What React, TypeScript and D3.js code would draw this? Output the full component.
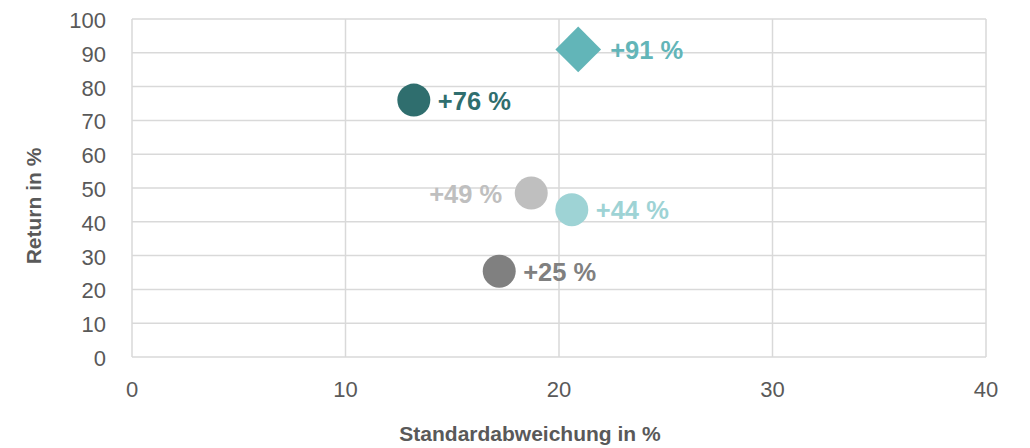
import React from "react";
import * as d3 from "d3";

const seriesNames = ["A", "B", "C", "D", "E"];
const stdDev = [20.9, 13.2, 18.7, 20.6, 17.2];
const returns = [91, 76, 48.5, 43.6, 25.4];
const labels = ["+91 %", "+76 %", "+49 %", "+44 %", "+25 %"];
const colors = ["#62B5B8", "#2F6E6E", "#BFBFBF", "#9ED3D5", "#808080"];
const shapes = ["diamond", "circle", "circle", "circle", "circle"];
const labelSide = ["right", "right", "left", "right", "right"];
const xTicks = [0, 10, 20, 30, 40];
const yTicks = [0, 10, 20, 30, 40, 50, 60, 70, 80, 90, 100];

const W = 1030;
const H = 448;
const FONT = "'Liberation Sans', Arial, sans-serif";

export default function App() {
  const x = d3.scaleLinear().domain([0, 40]).range([132, 986]);
  const y = d3.scaleLinear().domain([0, 100]).range([357, 19]);
  const grid = "#D9D9D9";
  const diamond = d3.symbol().type(d3.symbolDiamond2).size(1330)();
  const circle = d3.symbol().type(d3.symbolCircle).size(Math.PI * 16.5 * 16.5)();

  return (
    <svg
      width={W}
      height={H}
      style={{ position: "absolute", left: 0, top: 0, background: "#fff" }}
      fontFamily={FONT}
    >
      {yTicks.map((t) => (
        <line key={"gy" + t} x1={x(0)} x2={x(40)} y1={y(t)} y2={y(t)} stroke={grid} strokeWidth={1.5} />
      ))}
      {xTicks.map((t) => (
        <line key={"gx" + t} x1={x(t)} x2={x(t)} y1={y(0)} y2={y(100)} stroke={grid} strokeWidth={1.5} />
      ))}
      {yTicks.map((t) => (
        <text key={"ty" + t} x={106} y={y(t) + 9} textAnchor="end" fontSize={22} fill="#595959">
          {t}
        </text>
      ))}
      {xTicks.map((t) => (
        <text key={"tx" + t} x={x(t)} y={397} textAnchor="middle" fontSize={22} fill="#595959">
          {t}
        </text>
      ))}
      <text
        transform={`translate(41,206) rotate(-90)`}
        textAnchor="middle"
        fontSize={21}
        fontWeight="bold"
        fill="#595959"
      >
        Return in %
      </text>
      <text x={530} y={441} textAnchor="middle" fontSize={21} fontWeight="bold" fill="#595959">
        Standardabweichung in %
      </text>
      {seriesNames.map((n, i) => {
        const cx = x(stdDev[i]);
        const cy = y(returns[i]);
        const isD = shapes[i] === "diamond";
        const off = isD ? 32 : 24;
        const right = labelSide[i] === "right";
        return (
          <g key={n}>
            <path d={isD ? diamond : circle} transform={`translate(${cx},${cy})`} fill={colors[i]} />
            <text
              x={right ? cx + off : cx - 29}
              y={cy + 9.5}
              textAnchor={right ? "start" : "end"}
              fontSize={25.5}
              fontWeight="bold"
              fill={colors[i]}
            >
              {labels[i]}
            </text>
          </g>
        );
      })}
    </svg>
  );
}
